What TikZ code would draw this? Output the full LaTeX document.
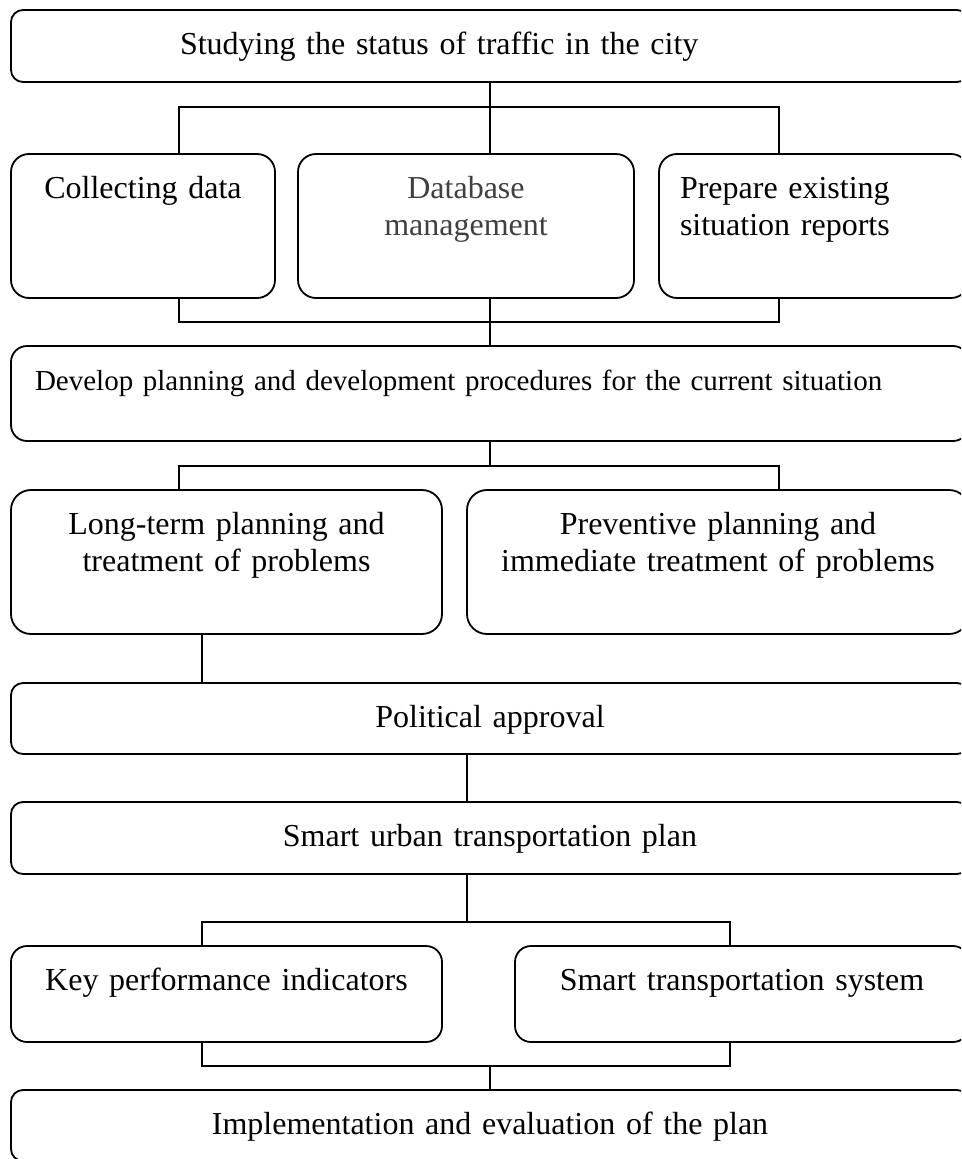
\documentclass[tikz,border=0pt]{standalone}
\usepackage{fontspec}
\setmainfont[WordSpace=0.8]{Liberation Serif}
\usepackage{tikz}

\begin{document}
\begin{tikzpicture}[x=1pt, y=-1pt,
                        stage/.style={rectangle, draw, line width=1.8pt, anchor=north west,
                            outer sep=0pt, inner ysep=0pt, inner xsep=8pt, text height=44pt,
                            font=\fontsize{32}{37}\selectfont},
                        link/.style={line width=1.4pt}]
                        \useasboundingbox (0, 0) rectangle (961, 1159);
                        \clip (0, 0) rectangle (961, 1159);

                        \node (st) at (11, 10) [stage, rounded corners=12pt, inner xsep=169pt,
                            text width=620pt, align=left, text depth=28pt]
                            {Studying the status of traffic in the city};

                        \node (cd) at (11, 154) [stage, rounded corners=18pt,
                            text width=248pt, align=center, text depth=100pt]
                            {Collecting data};
                        \node (db) at (298, 154) [stage, rounded corners=18pt,
                            text width=320pt, align=center, text depth=100pt, text=black!75]
                            {Database\\management};
                        \node (pr) at (659, 154) [stage, rounded corners=18pt, inner xsep=21pt,
                            text width=268pt, align=left, text depth=100pt]
                            {Prepare existing\\situation reports};

                        \node (dp) at (11, 346) [stage, rounded corners=16pt, inner xsep=24pt,
                            text width=910pt, align=left, text depth=51pt,
                            font=\fontsize{29}{34}\selectfont]
                            {Develop planning and development procedures for the current situation};

                        \node (lt) at (11, 490) [stage, rounded corners=20pt,
                            text width=415pt, align=center, text depth=100pt]
                            {Long-term planning and\\treatment of problems};
                        \node (pv) at (467, 490) [stage, rounded corners=20pt,
                            text width=486pt, align=center, text depth=100pt]
                            {Preventive planning and\\immediate treatment of problems};

                        \node (pa) at (11, 683) [stage, rounded corners=12pt,
                            text width=942pt, align=center, text depth=27pt]
                            {Political approval};
                        \node (sp) at (11, 802) [stage, rounded corners=12pt,
                            text width=942pt, align=center, text depth=28pt]
                            {Smart urban transportation plan};

                        \node (kp) at (11, 946) [stage, rounded corners=16pt,
                            text width=415pt, align=center, text depth=52pt]
                            {Key performance indicators};
                        \node (ts) at (515, 946) [stage, rounded corners=16pt,
                            text width=438pt, align=center, text depth=52pt]
                            {Smart transportation system};

                        \node (ie) at (11, 1090) [stage, rounded corners=12pt,
                            text width=942pt, align=center, text depth=27pt]
                            {Implementation and evaluation of the plan};

                        \coordinate (a) at (490, 107);
                        \coordinate (al) at (179, 107);
                        \coordinate (ar) at (779, 107);
                        \draw[link] (st.south) -- (a);
                        \draw[link] (cd.north -| al) |- (ar) -- (pr.north -| ar);
                        \draw[link] (a) -- (db.north -| a);

                        \coordinate (b) at (490, 322);
                        \coordinate (bl) at (179, 322);
                        \coordinate (br) at (779, 322);
                        \draw[link] (cd.south -| bl) |- (br) -- (pr.south -| br);
                        \draw[link] (db.south -| b) -- (dp.north);

                        \coordinate (c) at (490, 466);
                        \coordinate (cl) at (179, 466);
                        \coordinate (cr) at (779, 466);
                        \draw[link] (dp.south) -- (c);
                        \draw[link] (lt.north -| cl) |- (cr) -- (pv.north -| cr);

                        \coordinate (d) at (202, 0);
                        \draw[link] (lt.south -| d) -- (pa.north -| d);
                        \coordinate (e) at (467, 0);
                        \draw[link] (pa.south -| e) -- (sp.north -| e);

                        \coordinate (f) at (467, 922);
                        \coordinate (fl) at (202, 922);
                        \coordinate (fr) at (730, 922);
                        \draw[link] (sp.south -| f) -- (f);
                        \draw[link] (kp.north -| fl) |- (fr) -- (ts.north -| fr);

                        \coordinate (g) at (490, 1066);
                        \coordinate (gl) at (202, 1066);
                        \coordinate (gr) at (730, 1066);
                        \draw[link] (kp.south -| gl) |- (gr) -- (ts.south -| gr);
                        \draw[link] (g) -- (ie.north);
                    \end{tikzpicture}
\end{document}
